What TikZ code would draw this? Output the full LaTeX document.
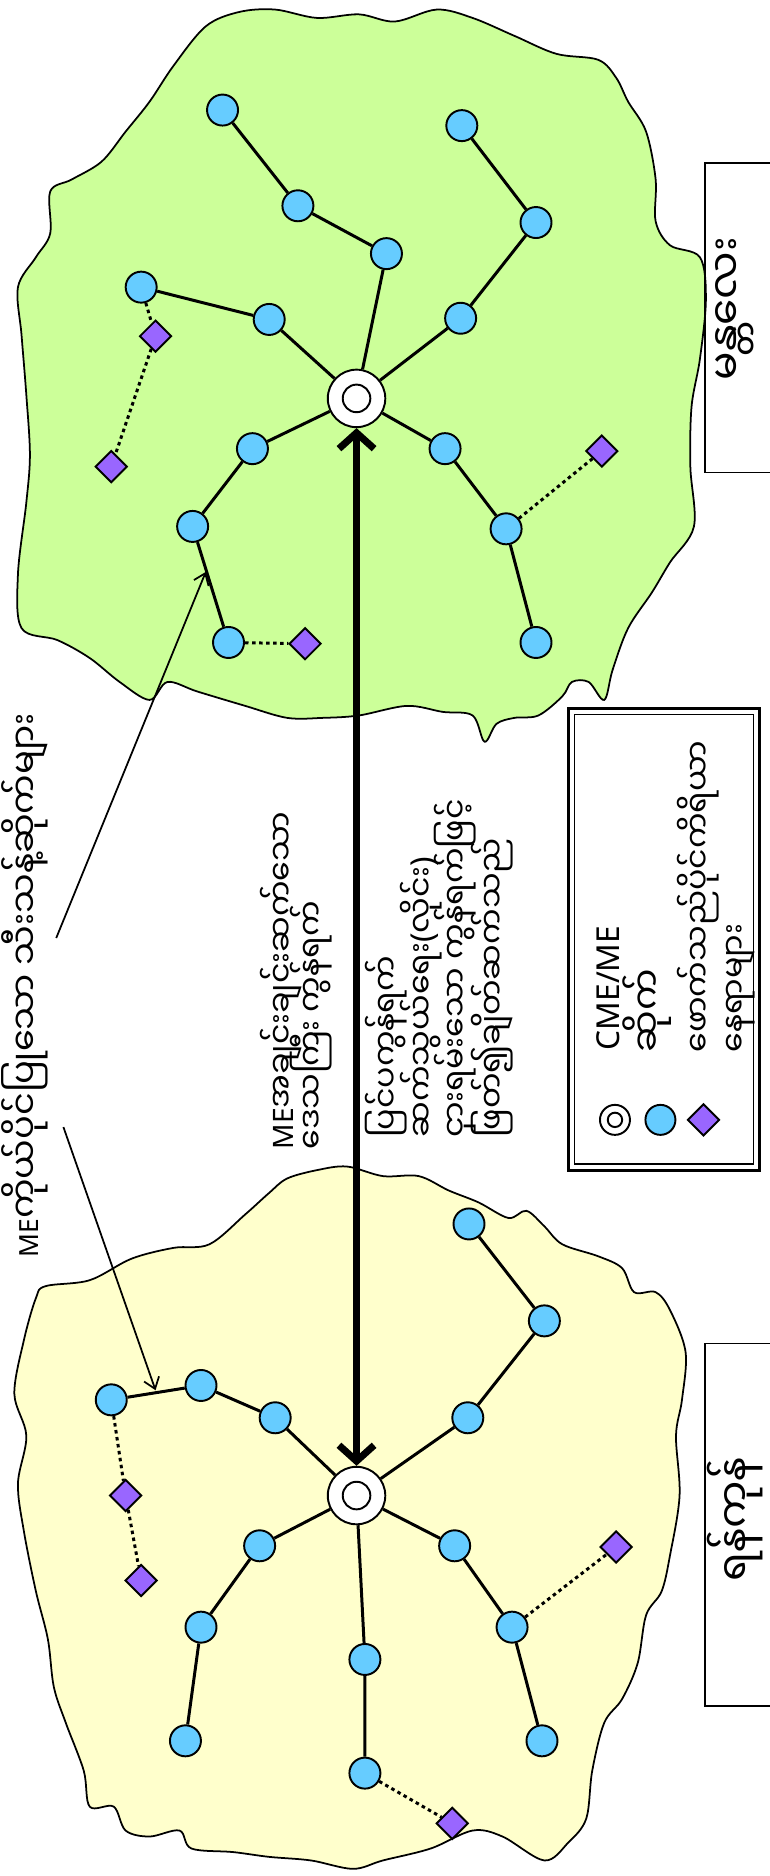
\documentclass[tikz,border=0pt]{standalone}
\usepackage{fontspec}
\setmainfont{Noto Sans}
\newfontfamily\mmfont[Script=Myanmar]{Noto Sans Myanmar UI}
\newcommand\mmtxt[1]{{\mmfont #1}}
\usetikzlibrary{shapes.geometric,arrows.meta}

\definecolor{sitecol}{HTML}{66CCFF}
\definecolor{custcol}{HTML}{9966FF}
\definecolor{mdyfill}{HTML}{CCFF99}
\definecolor{ygnfill}{HTML}{FFFFCC}

\begin{document}
\begin{tikzpicture}[x=0.02392cm,y=-0.02392cm,
  region/.style={draw,line width=1pt,fill=#1},
  hub/.style={circle,draw,line width=1.1pt,fill=white,minimum size=#1,inner sep=0pt,
    path picture={\draw[line width=1.1pt] (path picture bounding box.center) circle (0.24*#1);}},
  site/.style={circle,draw,line width=1.1pt,fill=sitecol,minimum size=0.62cm,inner sep=0pt},
  cust/.style={diamond,draw,line width=1.1pt,fill=custcol,minimum size=0.64cm,inner sep=0pt},
  link/.style={line width=1.7pt},
  dotlink/.style={line width=1.7pt,dash pattern=on 2pt off 2pt},
  bigarrow/.style={{Straight Barb[length=9pt,width=20pt]}-{Straight Barb[length=9pt,width=20pt]},line width=4pt},
  pointer/.style={-{Straight Barb[length=6pt,width=9pt]},line width=1pt},
  vtext/.style={rotate=90,anchor=base west,inner sep=0pt,font=\fontsize{#1}{#1}\selectfont},
  mmline/.style={vtext=#1,font=\mmfont\fontsize{#1}{#1}\selectfont},
]

\useasboundingbox (0,0) rectangle (643,1568);
\fill[white] (0,0) rectangle (643,1568);

% ==== REGIONS ====
\draw[region=mdyfill] plot[smooth cycle,tension=0.55] coordinates {
  (172,22) (200,10) (230,8) (265,15) (300,12) (330,18) (365,8) (395,15) (430,30)
  (465,45) (500,50) (515,65) (525,85) (540,110) (548,150) (548,185) (560,205)
  (585,215) (590,250) (585,300) (578,340) (577,390) (580,440) (560,470) (545,495)
  (525,525) (512,560) (505,585) (492,570) (478,570) (470,582) (450,598) (430,600)
  (415,605) (405,620) (395,598) (370,595) (340,590) (300,598) (270,600) (240,600)
  (205,590) (165,578) (140,570) (125,585) (100,570) (75,550) (48,535) (18,525)
  (15,480) (22,420) (25,380) (22,330) (18,280) (15,240) (30,215) (42,195) (42,160)
  (60,150) (85,135) (105,110) (125,85) (145,55)};

\draw[region=ygnfill] plot[smooth cycle,tension=0.55] coordinates {
  (240,985) (265,978) (290,975) (320,983) (350,983) (375,995) (400,1005) (425,1018)
  (440,1012) (455,1025) (470,1040) (500,1050) (520,1060) (530,1080) (548,1080)
  (560,1095) (573,1130) (570,1170) (565,1200) (568,1250) (560,1300) (553,1330)
  (540,1350) (533,1390) (520,1420) (505,1440) (495,1480) (490,1520) (475,1540)
  (455,1555) (420,1535) (395,1530) (360,1545) (320,1555) (295,1562) (260,1555)
  (225,1552) (195,1548) (160,1545) (150,1530) (125,1535) (105,1530) (95,1510)
  (75,1510) (70,1480) (55,1440) (45,1410) (40,1370) (30,1330) (20,1280) (15,1240)
  (22,1200) (12,1165) (20,1120) (30,1085) (38,1075) (75,1070) (110,1052) (145,1043)
  (175,1040) (205,1015) (225,997)};

% ==== MANDALAY (top) ====
\node[hub=1.15cm] (mdyhub) at (298,333) {};
\node[site] (m1a) at (225,267) {};
\node[site] (m1b) at (118,240) {};
\node[site] (m2a) at (323,212) {};
\node[site] (m2b) at (249,172) {};
\node[site] (m2c) at (186,92) {};
\node[site] (m3a) at (385,266) {};
\node[site] (m3b) at (448,186) {};
\node[site] (m3c) at (386,105) {};
\node[site] (m4a) at (372,375) {};
\node[site] (m4b) at (423,442) {};
\node[site] (m4c) at (448,537) {};
\node[site] (m5a) at (211,375) {};
\node[site] (m5b) at (161,440) {};
\node[site] (m5c) at (191,537) {};
\node[cust] (md1) at (130,281) {};
\node[cust] (md2) at (93,390) {};
\node[cust] (md3) at (503,377) {};
\node[cust] (md4) at (255,538) {};

\draw[link] (mdyhub) -- (m1a) -- (m1b);
\draw[link] (mdyhub) -- (m2a) -- (m2b) -- (m2c);
\draw[link] (mdyhub) -- (m3a) -- (m3b) -- (m3c);
\draw[link] (mdyhub) -- (m4a) -- (m4b) -- (m4c);
\draw[link] (mdyhub) -- (m5a) -- (m5b) -- (m5c);
\draw[dotlink] (m1b) -- (md1) -- (md2);
\draw[dotlink] (m4b) -- (md3);
\draw[dotlink] (m5c) -- (md4);

% ==== YANGON (bottom) ====
\node[hub=1.15cm] (ygnhub) at (298,1250) {};
\node[site] (y1a) at (230,1185) {};
\node[site] (y1b) at (168,1158) {};
\node[site] (y1c) at (93,1170) {};
\node[site] (y2a) at (391,1185) {};
\node[site] (y2b) at (455,1104) {};
\node[site] (y2c) at (392,1023) {};
\node[site] (y3a) at (380,1292) {};
\node[site] (y3b) at (428,1360) {};
\node[site] (y3c) at (453,1455) {};
\node[site] (y4a) at (305,1387) {};
\node[site] (y4b) at (305,1482) {};
\node[site] (y5a) at (217,1292) {};
\node[site] (y5b) at (168,1360) {};
\node[site] (y5c) at (155,1455) {};
\node[cust] (yd1) at (105,1250) {};
\node[cust] (yd2) at (118,1321) {};
\node[cust] (yd3) at (515,1293) {};
\node[cust] (yd4) at (378,1524) {};

\draw[link] (ygnhub) -- (y1a) -- (y1b) -- (y1c);
\draw[link] (ygnhub) -- (y2a) -- (y2b) -- (y2c);
\draw[link] (ygnhub) -- (y3a) -- (y3b) -- (y3c);
\draw[link] (ygnhub) -- (y4a) -- (y4b);
\draw[link] (ygnhub) -- (y5a) -- (y5b) -- (y5c);
\draw[dotlink] (y1c) -- (yd1) -- (yd2);
\draw[dotlink] (y3b) -- (yd3);
\draw[dotlink] (y4b) -- (yd4);

% inter-region link
\draw[bigarrow] (mdyhub) -- (ygnhub);

% ==== TEXTS ====
\node[vtext=15pt] (ownsite) at (32,1051)
  {ME\mmtxt{\fontsize{20pt}{20pt}\selectfont ကိုယ်ပိုင်ပြုသော သီးသန့်ဆိုက်များ}};
\coordinate (ownA) at (47,784);
\coordinate (ownB) at (53,942);
\coordinate (ownAtip) at (172,478);
\coordinate (ownBtip) at (130,1162);
\draw[pointer] (ownA) -- (ownAtip);
\draw[pointer] (ownB) -- (ownBtip);

\node[vtext=16pt] (link1) at (245,961)
  {ME\mmtxt{\fontsize{18pt}{18pt}\selectfont အချင်းချင်းဆက်သော}};
\node[mmline=18pt] (link2) at (270,961) {ဒေသကြီး ကွန်ရက်};

\node[mmline=18pt] (carrier1) at (333,951) {ပြင်ပကွန်ရက်};
\node[mmline=18pt] (carrier2) at (362,951) {ဆက်သွယ်ရေး\textrm{(}လိုင်း\textrm{)}};
\node[mmline=18pt] (carrier3) at (391,951) {ငှားရမ်းသော ကွန်ရက်ဖြင့်};
\node[mmline=18pt] (carrier4) at (422,951) {ဖြတ်၍ချိတ်ဆက်သည်};

% ==== LEGEND ====
\draw[line width=1.6pt] (475,592) rectangle (635,978);
\draw[line width=0.8pt] (480,597) rectangle (630,973);
\node[hub=0.6cm] (leghub) at (514,936) {};
\node[site,minimum size=0.6cm] (legsite) at (552,936) {};
\node[cust] (legcust) at (588,936) {};
\node[vtext=18pt] (leghubtxt) at (518,878) {CME/ME};
\node[mmline=21pt] (legsitetxt) at (553,880) {ဆိုက်};
\node[mmline=18pt] (legcust1) at (594,880) {ဖောက်သည်ပိုင်ကိရိယာ};
\node[mmline=18pt] (legcust2) at (624,880) {နေရာများ};

% ==== CITY LABELS ====
\draw[line width=1pt] (650,136) -- (589.5,136) -- (589.5,395) -- (650,395);
\draw[line width=1pt] (650,1123) -- (589.5,1123) -- (589.5,1426) -- (650,1426);
\node[rotate=90,font=\mmfont\fontsize{24pt}{24pt}\selectfont] (mdylbl) at (614,258) {မန္တလေး};
\node[rotate=90,font=\mmfont\fontsize{24pt}{24pt}\selectfont] (ygnlbl) at (614,1270) {ရန်ကုန်};

\end{tikzpicture}
\end{document}
